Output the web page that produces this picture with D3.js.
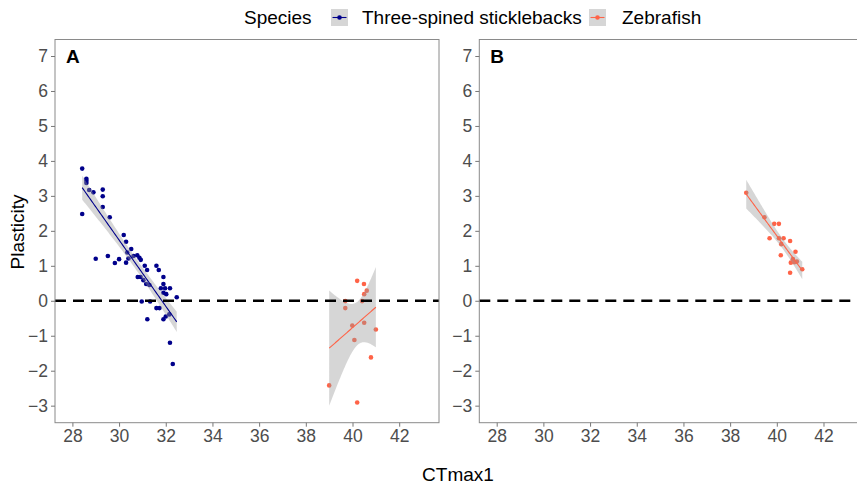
<!DOCTYPE html>
<html><head><meta charset="utf-8">
<script src="https://cdn.jsdelivr.net/npm/d3@7"></script>
<style>body{margin:0;background:#fff}svg{display:block;font-family:"Liberation Sans",Arial,sans-serif}</style>
</head><body>
<script>
// ---- data ----
const species = ["Three-spined sticklebacks", "Zebrafish"];
const speciesColors = ["#00008B", "#FF6347"];
const xTicks = [28, 30, 32, 34, 36, 38, 40, 42];
const yTicks = [-3, -2, -1, 0, 1, 2, 3, 4, 5, 6, 7];
const panelLabels = ["A", "B"];

// Panel A, sticklebacks: [CTmax1, Plasticity]
const sticklebackA = [
  [28.42,3.78],[28.6,3.49],[28.6,3.43],[28.6,3.37],[28.72,3.17],[28.9,3.1],[29.3,3.18],[29.3,2.99],
  [29.3,2.68],[28.42,2.48],[29.6,2.39],[29.0,1.2],[29.52,1.28],[29.82,1.08],[30.0,1.19],[30.2,1.88],
  [30.3,1.69],[30.35,1.38],[30.52,1.48],[30.3,1.09],[30.4,1.21],[30.62,1.28],[30.78,1.3],[30.87,1.23],
  [30.93,1.17],[31.1,1.0],[31.2,0.88],[31.6,1.0],[31.7,0.88],[30.8,0.68],[30.92,0.68],[31.9,0.68],
  [31.04,0.59],[31.16,0.48],[31.3,0.45],[31.9,0.48],[31.79,0.36],[31.97,0.36],[32.18,0.36],[31.9,0.23],
  [32.02,0.19],[32.47,0.1],[31.33,-0.02],[30.97,-0.02],[31.6,-0.21],[31.73,-0.21],[31.21,-0.53],[31.9,-0.53],
  [32.0,-0.45],[32.15,-0.39],[32.18,-1.2],[32.3,-1.81]
];
// Panel A, zebrafish
const zebrafishA = [
  [40.2,0.57],[40.49,0.48],[40.61,0.29],[40.5,0.19],[39.69,-0.01],[40.41,-0.01],[39.69,-0.21],
  [39.99,-0.71],[40.5,-0.63],[41.0,-0.82],[40.08,-1.12],[40.79,-1.62],[39.0,-2.42],[40.2,-2.91]
];
// Panel B, zebrafish
const zebrafishB = [
  [38.69,3.09],[39.47,2.39],[39.89,2.2],[40.09,2.2],[39.69,1.79],[40.09,1.79],[40.29,1.79],[40.57,1.71],
  [40.19,1.62],[40.8,1.4],[40.17,1.3],[40.69,1.19],[40.86,1.12],[40.6,1.09],[41.09,0.9],[40.57,0.8],[40.75,1.1]
];

const panels = [
  {label: panelLabels[0], groups: [{d: sticklebackA, s: 0}, {d: zebrafishA, s: 1}]},
  {label: panelLabels[1], groups: [{d: zebrafishB, s: 1}]}
];

// ---- stats: lm with 95% CI ----
function qt975(df){
  const z=1.959964, z3=z**3, z5=z**5, z7=z**7, z9=z**9;
  return z + (z3+z)/(4*df) + (5*z5+16*z3+3*z)/(96*df*df)
    + (3*z7+19*z5+17*z3-15*z)/(384*df**3)
    + (79*z9+776*z7+1482*z5-1920*z3-945*z)/(92160*df**4);
}
function lmFit(pts){
  const n=pts.length, mx=d3.mean(pts,p=>p[0]), my=d3.mean(pts,p=>p[1]);
  let sxx=0,sxy=0; pts.forEach(p=>{sxx+=(p[0]-mx)**2; sxy+=(p[0]-mx)*(p[1]-my);});
  const b=sxy/sxx, a=my-b*mx;
  let sse=0; pts.forEach(p=>{sse+=(p[1]-a-b*p[0])**2;});
  const s=Math.sqrt(sse/(n-2)), t=qt975(n-2);
  const [x0,x1]=d3.extent(pts,p=>p[0]);
  const out=[];
  for(let i=0;i<=80;i++){
    const xv=x0+(x1-x0)*i/80, f=a+b*xv, se=s*Math.sqrt(1/n+(xv-mx)**2/sxx);
    out.push({x:xv, f, lo:f-t*se, hi:f+t*se});
  }
  return out;
}

// ---- layout ----
const W=857, H=487;
const svg=d3.select("body").append("svg").attr("width",W).attr("height",H);
const pTop=39.5, pBottom=422.7, pw=384;
const lefts=[55, 479.3];
const yScale=d3.scaleLinear().domain([-3.487,7.472]).range([pBottom,pTop]);

panels.forEach((p,i)=>{
  const L=lefts[i];
  const xScale=d3.scaleLinear().domain([27.255,43.705]).range([L,L+pw]);
  const g=svg.append("g");
  g.append("rect").attr("x",L).attr("y",pTop).attr("width",pw).attr("height",pBottom-pTop).attr("fill","#fff");

  p.groups.forEach(gr=>{
    const col=speciesColors[gr.s];
    g.append("g").selectAll("circle").data(gr.d).join("circle")
      .attr("cx",d=>xScale(d[0])).attr("cy",d=>yScale(d[1])).attr("r",2.3).attr("fill",col);
    const fit=lmFit(gr.d);
    g.append("path").datum(fit)
      .attr("d",d3.area().x(d=>xScale(d.x)).y0(d=>yScale(d.lo)).y1(d=>yScale(d.hi)))
      .attr("fill","#999999").attr("fill-opacity",0.4);
    g.append("path").datum(fit)
      .attr("d",d3.line().x(d=>xScale(d.x)).y(d=>yScale(d.f)))
      .attr("fill","none").attr("stroke",col).attr("stroke-width",1.1);
  });

  g.append("line").attr("x1",L).attr("x2",L+pw).attr("y1",yScale(0)).attr("y2",yScale(0))
    .attr("stroke","#000").attr("stroke-width",2.4).attr("stroke-dasharray","11,7");

  g.append("rect").attr("x",L).attr("y",pTop).attr("width",pw).attr("height",pBottom-pTop)
    .attr("fill","none").attr("stroke","#8a8a8a").attr("stroke-width",1);

  const ax=g.append("g").attr("transform",`translate(0,${pBottom})`)
    .call(d3.axisBottom(xScale).tickValues(xTicks).tickSize(4).tickPadding(3).tickFormat(d3.format("d")));
  const ay=g.append("g").attr("transform",`translate(${L},0)`)
    .call(d3.axisLeft(yScale).tickValues(yTicks).tickSize(4).tickPadding(3).tickFormat(d3.format("d")));
  [ax,ay].forEach(a=>{
    a.select(".domain").remove();
    a.selectAll("line").attr("stroke","#777");
    a.selectAll("text").attr("fill","#4d4d4d").style("font-size","17.5px")
      .style("font-family","'Liberation Sans',Arial,sans-serif");
  });

  g.append("text").attr("x",L+11).attr("y",63.3).text(p.label)
    .style("font-size","19px").style("font-weight","bold").attr("fill","#000");
});

// axis titles
svg.append("text").attr("x",458).attr("y",481).attr("text-anchor","middle")
  .style("font-size","19px").attr("fill","#000").text("CTmax1");
svg.append("text").attr("transform","translate(24,232) rotate(-90)").attr("text-anchor","middle")
  .style("font-size","19px").attr("fill","#000").text("Plasticity");

// legend
const lg=svg.append("g");
lg.append("text").attr("x",244).attr("y",24).style("font-size","19px").attr("fill","#000").text("Species");
const keyX=[331,589], textX=[362,622];
species.forEach((s,i)=>{
  const kx=keyX[i], ky=9, ks=17;
  lg.append("rect").attr("x",kx).attr("y",ky).attr("width",ks).attr("height",ks)
    .attr("fill","#999999").attr("fill-opacity",0.4);
  lg.append("line").attr("x1",kx+1.5).attr("x2",kx+ks-1.5).attr("y1",ky+ks/2).attr("y2",ky+ks/2)
    .attr("stroke",speciesColors[i]).attr("stroke-width",1.1);
  lg.append("circle").attr("cx",kx+ks/2).attr("cy",ky+ks/2).attr("r",2.3).attr("fill",speciesColors[i]);
  lg.append("text").attr("x",textX[i]).attr("y",24).style("font-size","19px").attr("fill","#000").text(s);
});
</script>
</body></html>
